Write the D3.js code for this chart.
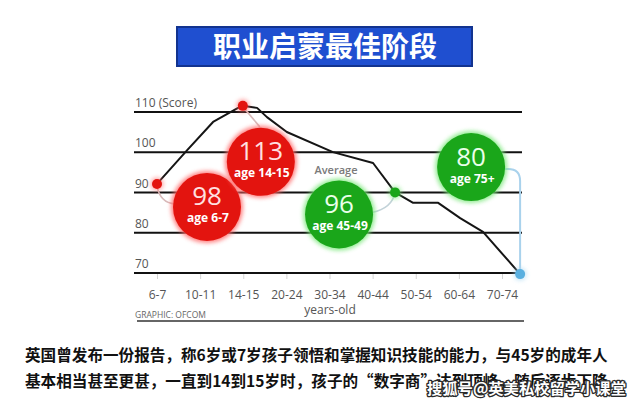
<!DOCTYPE html>
<html><head><meta charset="utf-8">
<script src="https://cdn.jsdelivr.net/npm/d3@7"></script>
<style>
html,body{margin:0;padding:0;background:#fff;}
svg{display:block;}
</style></head>
<body>
<svg id="c" width="640" height="404"></svg>
<script>
// ---------- data ----------
const titleText = "职业启蒙最佳阶段";
const categories = ["6-7","10-11","14-15","20-24","30-34","40-44","50-54","60-64","70-74"];
const gridValues = [70, 80, 90, 100, 110];
const gridLabels = ["70", "80", "90", "100", "110 (Score)"];
// line trace: position on the category index axis and score
const linePos = [0, 0.70, 1.30, 1.88, 1.99, 2.32, 2.55, 3.01, 4.08, 5.01, 5.52, 5.94, 6.52, 7.03, 7.56, 8.42];
const lineVal = [92.0, 100.4, 107.4, 110.9, 111.4, 110.9, 108.6, 104.9, 99.9, 97.2, 89.9, 87.3, 87.3, 83.5, 80.1, 69.6];
// highlighted points
const markPos = [0, 1.99, 5.52, 8.42];
const markVal = [92.0, 111.4, 89.9, 69.6];
const markKind = ["red", "red", "green", "blue"];
// bubbles
const bubbleNum = ["98", "113", "96", "80"];
const bubbleAge = ["age 6-7", "age 14-15", "age 45-49", "age 75+"];
const bubbleKind = ["red", "red", "green", "green"];
const bubbleMark = [0, 1, 2, 3];
const averageLabel = "Average";
const xTitle = "years-old";
const sourceText = "GRAPHIC: OFCOM";
const captionLines = [
  "英国曾发布一份报告，称6岁或7岁孩子领悟和掌握知识技能的能力，与45岁的成年人",
  "基本相当甚至更甚，一直到14到15岁时，孩子的“数字商”达到顶峰，随后逐步下降。"
];
const watermark = "搜狐号@英美私校留学小课堂";

// ---------- layout ----------
const svg = d3.select("#c");
const x = d3.scaleLinear().domain([0, 8]).range([157, 502]);
const y = d3.scaleLinear().domain([70, 110]).range([272.5, 111.5]);
const gridLeft = 134, gridRight = 522;
const colors = {
  red: {fill: "#e3140f", glow: "#ff6a6a", num: "#ffe0e0"},
  green: {fill: "#1aa61a", glow: "#7ee87e", num: "#eaffea"},
  blue: {fill: "#5ab0e0", glow: "#a8d8f2"}
};
// bubble layout offsets relative to their anchor point (pixels)
const bubbleOffset = [[50, 23], [18, 56], [-56, 22], [-49, -107]];
const bubbleR = 34.5;

const defs = svg.append("defs");
const f = defs.append("filter").attr("id", "glow").attr("x", "-30%").attr("y", "-30%").attr("width", "160%").attr("height", "160%");
f.append("feGaussianBlur").attr("stdDeviation", 2.2);

// ---------- title ----------
svg.append("rect").attr("x", 177).attr("y", 27).attr("width", 295).attr("height", 39)
  .attr("fill", "#1f4fd0").attr("stroke", "#12338f").attr("stroke-width", 2);
svg.append("text").attr("x", 325).attr("y", 57).attr("text-anchor", "middle")
  .attr("font-family", "Noto Sans CJK SC").attr("font-weight", 700).attr("font-size", 28)
  .attr("fill", "#fff").text(titleText);

// ---------- grid (y axis) ----------
const yAxis = d3.axisRight(y).tickValues(gridValues)
  .tickSize(gridRight - gridLeft)
  .tickFormat((d, i) => gridLabels[i]);
const gy = svg.append("g").attr("transform", `translate(${gridLeft},0)`).call(yAxis);
gy.select(".domain").remove();
gy.selectAll(".tick line").attr("stroke", "#111").attr("stroke-width", 2);
gy.selectAll(".tick text").attr("x", 1).attr("dy", -5).attr("text-anchor", "start")
  .attr("font-family", "Open Sans").attr("font-size", 12).attr("fill", "#555");

// ---------- x axis ----------
const xAxis = d3.axisBottom(x).tickValues(d3.range(categories.length))
  .tickSize(5).tickPadding(11).tickFormat(i => categories[i]);
const gx = svg.append("g").attr("transform", `translate(0,${y(70) + 1.5})`).call(xAxis);
gx.select(".domain").remove();
gx.selectAll(".tick line").attr("stroke", "#d4d4d4").attr("stroke-width", 1);
gx.selectAll(".tick text").attr("font-family", "Open Sans").attr("font-size", 12).attr("fill", "#555");

svg.append("text").attr("x", 330).attr("y", 314).attr("text-anchor", "middle")
  .attr("font-family", "Open Sans").attr("font-size", 12).attr("fill", "#555").text(xTitle);
svg.append("text").attr("x", 135).attr("y", 318)
  .attr("font-family", "Open Sans").attr("font-size", 8.5).attr("fill", "#666").text(sourceText);
svg.append("line").attr("x1", 137).attr("x2", 524).attr("y1", 321).attr("y2", 321)
  .attr("stroke", "#333").attr("stroke-width", 1.5);

// ---------- connectors ----------
const mp = markPos.map((p, i) => [x(p), y(markVal[i])]);
const conn = svg.append("g").attr("fill", "none").attr("stroke-width", 1.6);
conn.append("path").attr("stroke", "#d8b9b9")
  .attr("d", `M${mp[0][0]},${mp[0][1] + 2} Q${mp[0][0] + 3},${mp[0][1] + 19} ${mp[0][0] + 18},${mp[0][1] + 20}`);
conn.append("path").attr("stroke", "#d8b9b9")
  .attr("d", `M${mp[1][0] + 1},${mp[1][1] + 2} L${mp[1][0] + 17},${mp[1][1] + 21}`);
conn.append("path").attr("stroke", "#c2d2d8")
  .attr("d", `M${mp[2][0] - 23},${mp[2][1] + 20} Q${mp[2][0] - 3},${mp[2][1] + 16} ${mp[2][0]},${mp[2][1]}`);
conn.append("path").attr("stroke", "#a9d2ec").attr("stroke-width", 2)
  .attr("d", `M${mp[3][0] - 22},${mp[3][1] - 105} L${mp[3][0] - 12},${mp[3][1] - 105} Q${mp[3][0]},${mp[3][1] - 105} ${mp[3][0]},${mp[3][1] - 93} L${mp[3][0]},${mp[3][1] - 2}`);

// ---------- line ----------
const lineData = linePos.map((p, i) => [p, lineVal[i]]);
svg.append("path").datum(lineData)
  .attr("fill", "none").attr("stroke", "#151515").attr("stroke-width", 2).attr("stroke-linejoin", "round")
  .attr("d", d3.line().x(d => x(d[0])).y(d => y(d[1])).curve(d3.curveLinear));

// ---------- markers ----------
const mk = svg.append("g");
markPos.forEach((p, i) => {
  const c = colors[markKind[i]];
  mk.append("circle").attr("cx", x(p)).attr("cy", y(markVal[i])).attr("r", 6.5)
    .attr("fill", c.glow).attr("opacity", 0.6).attr("filter", "url(#glow)");
  mk.append("circle").attr("cx", x(p)).attr("cy", y(markVal[i])).attr("r", 5)
    .attr("fill", c.fill);
});

// ---------- Average label ----------
svg.append("text").attr("x", 336).attr("y", 174).attr("text-anchor", "middle")
  .attr("font-family", "Open Sans").attr("font-weight", 600).attr("font-size", 11)
  .attr("fill", "#7a7a7a").text(averageLabel);

// ---------- bubbles ----------
const bg = svg.append("g");
bubbleNum.forEach((num, i) => {
  const m = bubbleMark[i];
  const cx = x(markPos[m]) + bubbleOffset[i][0];
  const cy = y(markVal[m]) + bubbleOffset[i][1];
  const c = colors[bubbleKind[i]];
  bg.append("circle").attr("cx", cx).attr("cy", cy).attr("r", bubbleR + 1.5)
    .attr("fill", c.glow).attr("opacity", 0.85).attr("filter", "url(#glow)");
  bg.append("circle").attr("cx", cx).attr("cy", cy).attr("r", bubbleR - 0.5)
    .attr("fill", c.fill);
  bg.append("text").attr("x", cx).attr("y", cy - 1.5).attr("text-anchor", "middle")
    .attr("font-family", "Open Sans").attr("font-size", 26).attr("fill", c.num).text(num);
  bg.append("text").attr("x", cx + 1).attr("y", cy + 15.5).attr("text-anchor", "middle")
    .attr("font-family", "Open Sans").attr("font-weight", 700).attr("font-size", 12)
    .attr("fill", "#fff").text(bubbleAge[i]);
});

// ---------- caption ----------
captionLines.forEach((t, i) => {
  svg.append("text").attr("x", 25).attr("y", 361 + i * 26)
    .attr("font-family", "Noto Sans CJK SC").attr("font-weight", 700).attr("font-size", 15.6)
    .attr("fill", "#111").text(t);
});
svg.append("text").attr("x", 427).attr("y", 394)
  .attr("font-family", "Noto Sans CJK SC").attr("font-weight", 700).attr("font-size", 15.3)
  .attr("fill", "#fff").attr("stroke", "#2a2a2a").attr("stroke-width", 2.6)
  .attr("paint-order", "stroke").attr("stroke-linejoin", "round").text(watermark);
</script>
</body></html>
